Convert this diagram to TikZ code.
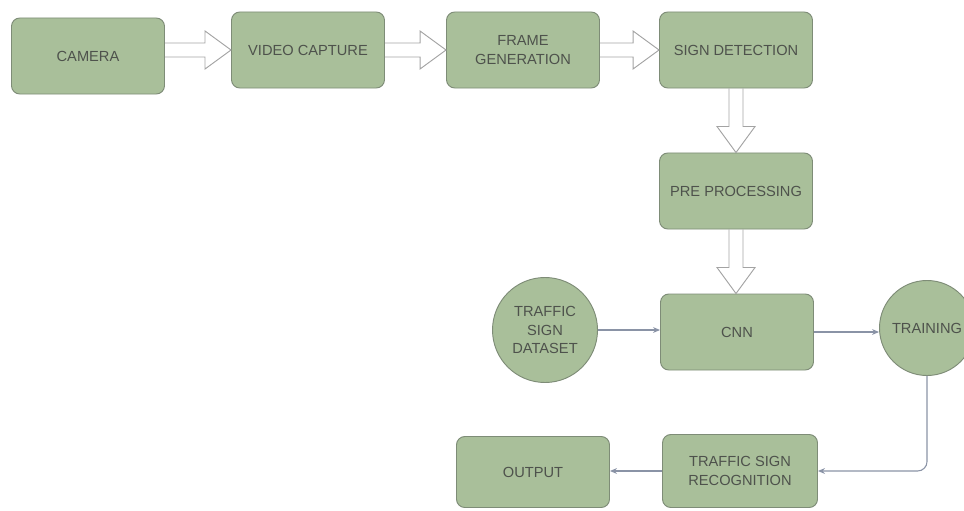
\documentclass[tikz,border=0pt]{standalone}
\usepackage{fontspec}
\setmainfont{Liberation Sans}
\usetikzlibrary{positioning, arrows.meta, calc}
\definecolor{boxgreen}{HTML}{A9BF9A}
\definecolor{boxedge}{HTML}{7E8C77}
\definecolor{textgray}{HTML}{4E524C}
\definecolor{hollowgray}{HTML}{A3A3A3}
\definecolor{linkblue}{HTML}{8A93A6}

% hollow block arrows (shaft half width, head half width, head length)
\newcommand{\shaftw}{0.21cm}
\newcommand{\headw}{0.57cm}
\newcommand{\headl}{0.78cm}
\newcommand{\hollowright}[2]{%
  \draw[hollow] let \p1=(#1), \p2=(#2) in
    (\x1,\y1+\shaftw) -- (\x2-\headl,\y1+\shaftw) -- (\x2-\headl,\y1+\headw)
    -- (\x2,\y1) -- (\x2-\headl,\y1-\headw) -- (\x2-\headl,\y1-\shaftw) -- (\x1,\y1-\shaftw);}
\newcommand{\hollowdown}[2]{%
  \draw[hollow] let \p1=(#1), \p2=(#2) in
    (\x1-\shaftw,\y1) -- (\x1-\shaftw,\y2+\headl) -- (\x1-\headw,\y2+\headl)
    -- (\x1,\y2) -- (\x1+\headw,\y2+\headl) -- (\x1+\shaftw,\y2+\headl) -- (\x1+\shaftw,\y1);}

\begin{document}
\begin{tikzpicture}[x=0.03cm, y=-0.03cm,
        box/.style={rectangle, rounded corners=0.25cm, draw=boxedge, fill=boxgreen, line width=0.8pt,
            minimum width=4.59cm, minimum height=2.28cm, text=textgray, align=center,
            font=\fontsize{12.5}{16}\selectfont},
        disc/.style={circle, draw=boxedge, fill=boxgreen, line width=0.8pt, inner sep=0pt,
            text=textgray, align=center, font=\fontsize{12.5}{16}\selectfont},
        hollow/.style={draw=hollowgray, line width=0.8pt, line join=miter},
        link/.style={-{Stealth[length=6pt, width=5pt]}, linkblue, line width=0.9pt}
    ]
    \useasboundingbox (0,0) rectangle (964,510);

    % Capture chain
    \node[box] (cam) at (88,56) {CAMERA};
    \node[box] (vcap) at (308,50) {VIDEO CAPTURE};
    \node[box] (frame) at (523,50) {FRAME\\GENERATION};
    \node[box] (detect) at (736,50) {SIGN DETECTION};
    \node[box] (prep) at (736,191) {PRE PROCESSING};
    \node[box] (cnn) at (737,332) {CNN};

    \hollowright{cam.east |- vcap.west}{vcap.west}
    \hollowright{vcap.east}{frame.west}
    \hollowright{frame.east}{detect.west}
    \hollowdown{detect.south}{prep.north}
    \hollowdown{prep.south}{cnn.north}

    % Classification
    \node[disc, minimum size=3.15cm] (dataset) at (545,330) {TRAFFIC\\SIGN\\DATASET};
    \node[disc, minimum size=2.85cm] (train) at (927,328) {TRAINING};
    \node[box, minimum width=4.65cm, minimum height=2.19cm] (tsr) at (740,471) {TRAFFIC SIGN\\RECOGNITION};
    \node[box, minimum height=2.13cm] (output) at (533,472) {OUTPUT};

    \draw[link] (dataset.east) -- (dataset.east -| cnn.west);
    \draw[link] (cnn.east) -- (cnn.east -| train.west);
    \draw[link, rounded corners=8pt] (train.south) |- (tsr.east);
    \draw[link] (tsr.west) -- (tsr.west -| output.east);
\end{tikzpicture}
\end{document}
